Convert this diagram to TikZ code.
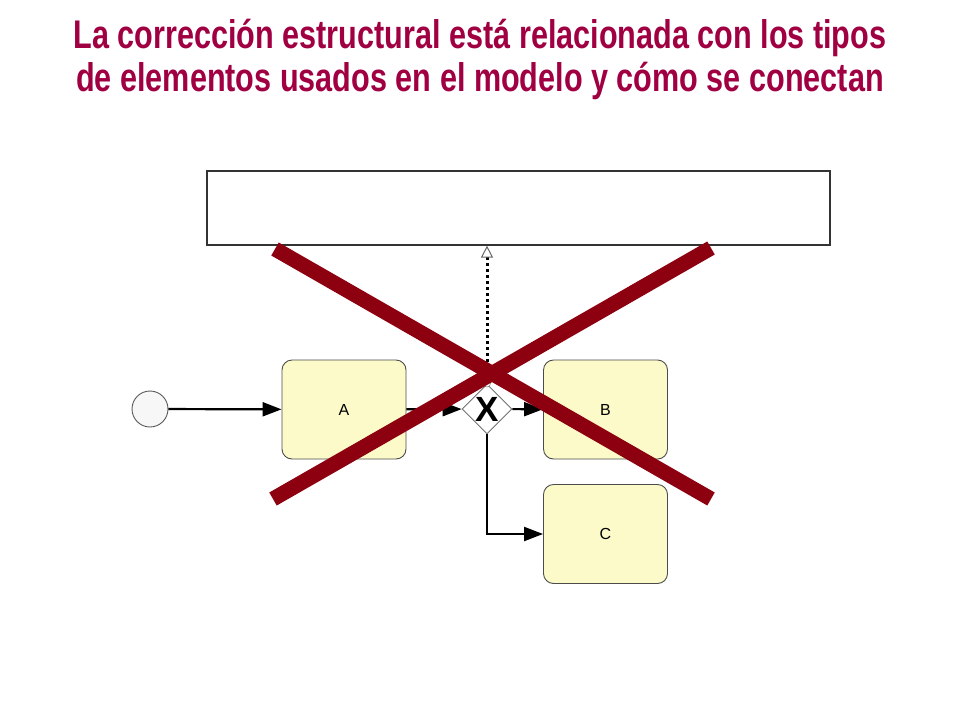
\documentclass[tikz,border=0pt]{standalone}
\usepackage{fontspec}
\setmainfont{Liberation Sans}
\newfontfamily\titlefont[FakeStretch=0.765]{Liberation Sans}
\usetikzlibrary{shapes.geometric,arrows.meta}
\definecolor{titlered}{RGB}{160,0,66}
\definecolor{crossred}{RGB}{140,0,15}
\definecolor{taskyellow}{RGB}{252,250,200}
\begin{document}
\begin{tikzpicture}[x=1pt,y=-1pt,
    task/.style={draw=black!70, line width=0.9pt, fill=taskyellow, rounded corners=10pt, minimum width=124pt, minimum height=99pt, inner sep=0pt, font=\fontsize{16}{16}\selectfont},
    gateway/.style={diamond, draw=black!55, line width=0.9pt, fill=white, minimum width=50pt, minimum height=50pt, inner sep=0pt, font=\bfseries\fontsize{35}{35}\selectfont},
    flow/.style={line width=2.2pt, -{Triangle[length=19pt,width=14pt]}},
    assoc/.style={line width=3pt, dash pattern=on 3pt off 3pt, -{Triangle[open,length=12pt,width=12pt,line width=1pt,color=black!60]}},
    cross/.style={line width=15pt, crossred}]
  \useasboundingbox (0,0) rectangle (960,720);
  \node[font=\titlefont\bfseries\fontsize{40}{43}\selectfont, text=titlered, align=center] (title) at (480,59)
    {La corrección estructural está relacionada con los tipos\\de elementos usados en el modelo y cómo se conectan};
  \node[draw=black!80, line width=1.2pt, minimum width=623pt, minimum height=74pt] (pool) at (518.5,208) {};
  \node[circle, draw=black!65, line width=0.9pt, fill=black!3, minimum size=36pt, inner sep=0pt] (start) at (150,409) {};
  \node[task] (A) at (344,409.5) {A};
  \node[gateway] (gw) at (487,409) {X};
  \node[task] (B) at (605.5,409.5) {B};
  \node[task] (C) at (605.5,534) {C};
  \node[circle, draw=black!60, fill=white, minimum size=7pt, inner sep=0pt] (dot) at (gw.north) {};
  % flows
  \draw[flow] (start) -- (A);
  \draw[flow] (A) -- (gw);
  \draw[flow] (gw) -- (B);
  \draw[flow] (gw.south) |- (C);
  \draw[assoc] (dot.north) -- (dot.north |- pool.south);
  % cross
  \coordinate (c1) at (275,249);
  \coordinate (c2) at (711,499);
  \coordinate (c3) at (711,248);
  \coordinate (c4) at (273,499);
  \draw[cross] (c1) -- (c2);
  \draw[cross] (c3) -- (c4);
\end{tikzpicture}
\end{document}
